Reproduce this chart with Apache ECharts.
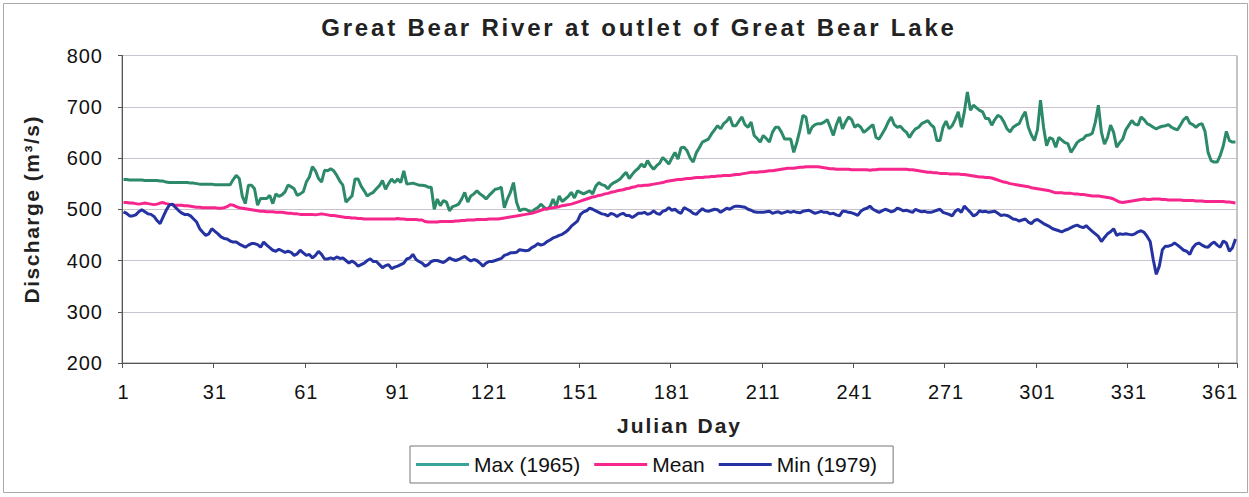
<!DOCTYPE html>
<html><head><meta charset="utf-8">
<script src="https://cdn.jsdelivr.net/npm/echarts@6/dist/echarts.min.js"></script>
<style>html,body{margin:0;padding:0;background:#fff}#c{width:1249px;height:497px}</style>
</head><body><div id="c"></div>
<script>
const titleText = 'Great Bear River at outlet of Great Bear Lake';
const xName = 'Julian Day';
const yName = 'Discharge (m\u00b3/s)';
const seriesNames = ['Max (1965)', 'Mean', 'Min (1979)'];
const yMin = 200, yMax = 800, yStep = 100;

const maxValues = [
558,558,557,557,557,557,557,556,556,556,
556,556,555,555,553,552,552,552,552,552,
552,552,551,551,550,549,549,549,549,549,
548,548,548,548,548,548,558,566,560,525,
511,547,547,540,508,521,521,521,527,511,
530,525,528,534,547,544,540,527,530,534,
553,563,583,575,560,553,576,575,579,575,
566,555,547,514,520,526,559,559,545,536,
526,530,533,540,546,556,539,550,559,552,
559,552,575,549,550,551,549,547,547,546,
543,543,500,520,507,517,514,497,505,507,
510,520,533,514,526,530,536,530,526,520,
527,533,539,540,543,503,520,533,552,514,
497,500,500,497,494,500,503,510,504,500,
505,520,505,526,515,520,525,533,522,536,
533,530,533,536,530,545,552,548,546,540,
548,552,555,559,566,572,560,568,575,580,
588,582,595,585,578,585,590,601,595,588,
600,611,598,620,621,614,600,592,610,620,
631,634,637,647,655,663,657,667,672,680,
663,663,672,680,665,660,670,644,638,631,
644,638,631,650,660,660,650,637,637,637,
611,630,654,683,680,647,660,665,667,667,
670,675,660,644,665,680,657,670,680,675,
660,665,660,650,655,660,665,640,637,647,
657,670,680,665,660,662,655,650,640,650,
657,660,667,670,673,665,660,634,634,660,
672,657,663,675,690,660,690,729,693,703,
698,693,690,677,677,664,675,683,680,670,
657,651,660,664,667,680,690,660,645,634,
655,713,660,624,640,637,621,640,635,630,
628,611,620,630,635,637,644,645,648,670,
703,650,627,640,664,650,621,630,637,655,
664,673,666,664,680,675,667,664,660,657,
660,662,663,665,660,657,655,665,675,680,
668,665,660,665,667,652,611,595,592,592,
605,624,652,634,631,631
];

const meanValues = [
513,513,512,512,511,510,511,512,511,510,
509,510,512,513,511,510,509,508,508,508,
507,507,506,505,504,504,503,503,503,503,
503,502,502,503,505,509,508,505,503,502,
501,500,499,498,497,496,496,495,495,495,
494,494,494,493,492,492,491,491,490,490,
490,490,490,489,490,491,490,489,488,488,
487,486,485,484,484,483,483,482,482,481,
481,481,481,481,481,481,481,481,481,481,
482,481,481,480,480,480,480,479,479,476,
475,475,475,475,476,476,476,476,476,477,
477,478,478,479,479,479,480,480,480,480,
481,481,481,481,482,483,484,485,486,487,
488,489,490,491,492,494,496,498,500,501,
502,503,504,505,507,508,509,510,512,514,
516,518,520,522,524,525,527,528,530,531,
533,534,536,537,538,540,541,543,544,546,
546,547,547,548,549,550,551,552,554,555,
556,557,558,558,559,560,560,561,562,562,
562,563,563,564,564,565,565,566,566,566,
567,568,568,569,570,571,572,572,572,573,
573,574,575,575,576,577,578,579,580,580,
580,581,582,582,583,583,583,583,583,582,
581,580,579,579,578,578,578,578,578,577,
577,577,577,577,577,576,577,577,578,578,
578,578,578,578,578,578,578,578,577,577,
576,575,574,573,572,572,571,571,570,570,
570,569,569,569,569,568,568,567,566,565,
564,563,563,562,562,561,559,557,555,553,
552,550,549,548,547,546,545,544,542,541,
540,539,538,537,536,534,532,532,532,531,
531,531,530,530,529,529,528,527,526,526,
526,525,524,523,522,520,517,514,513,514,
515,516,517,518,519,520,519,519,520,520,
520,519,519,518,518,518,518,518,517,517,
517,517,516,516,516,515,515,515,515,515,
515,515,514,514,513,512
];

const minValues = [
495,492,487,487,489,495,499,495,491,490,
486,478,472,485,498,508,510,504,498,493,
490,490,487,481,475,462,455,449,452,462,
457,452,446,443,442,438,436,436,432,429,
426,430,433,433,431,426,436,430,425,420,
418,422,419,416,418,416,410,413,420,415,
410,412,405,410,418,412,403,403,405,403,
407,404,405,400,395,399,395,389,392,395,
400,403,398,398,392,386,390,392,384,387,
389,392,395,403,405,412,402,398,395,389,
392,398,400,400,398,396,400,405,402,400,
402,405,408,403,399,402,400,395,389,395,
398,398,400,402,404,410,412,415,415,416,
421,420,419,420,425,428,433,430,432,437,
440,444,446,449,451,455,460,467,472,477,
490,495,497,502,500,497,494,491,490,487,
492,490,486,490,492,488,488,484,488,492,
492,494,490,492,497,492,490,496,498,503,
498,500,495,492,503,500,497,492,490,496,
501,497,496,498,500,499,494,498,502,500,
504,506,506,505,504,500,498,495,494,494,
494,495,496,492,494,495,492,494,496,494,
496,494,493,496,497,498,495,492,494,496,
494,494,491,492,489,487,496,496,494,493,
491,488,496,500,502,506,500,497,494,497,
500,498,495,497,502,500,497,498,496,494,
500,497,495,496,494,494,496,498,500,494,
492,490,487,496,500,494,506,500,494,487,
490,497,495,496,494,495,496,492,488,489,
488,485,481,480,477,479,481,475,472,478,
480,476,472,469,466,462,460,458,456,459,
461,464,467,469,466,464,468,462,457,452,
447,437,445,452,456,462,449,452,451,452,
451,450,452,456,458,455,447,437,402,373,
389,421,428,428,430,434,430,425,420,418,
412,425,432,434,430,427,426,432,436,430,
426,438,434,418,425,442
];

const days = maxValues.map((_, i) => String(i + 1));
const FONT = 'Liberation Sans, Arial, sans-serif';

const chart = echarts.init(document.getElementById('c'), null, {renderer: 'svg'});
chart.setOption({
  animation: false,
  backgroundColor: '#ffffff',
  title: {
    text: titleText, left: 634, top: 10, textAlign: 'center',
    textStyle: {fontFamily: FONT, fontSize: 24, fontWeight: 'bold', color: '#222'}
  },
  graphic: [{
    type: 'rect', left: 1, top: 1, silent: true,
    shape: {width: 1244, height: 489},
    style: {fill: 'none', stroke: '#aaa', lineWidth: 1}
  }],
  grid: {left: 122, right: 12, top: 55.5, bottom: 134, show: true, borderColor: '#8a8a8a', borderWidth: 1},
  legend: {
    data: seriesNames, left: 410, top: 446, orient: 'horizontal',
    icon: 'rect', itemWidth: 53, itemHeight: 3, itemGap: 14,
    padding: [8, 16, 8, 6], borderColor: '#777', borderWidth: 1,
    textStyle: {fontFamily: FONT, fontSize: 21, color: '#111'}
  },
  xAxis: {
    type: 'category', data: days, boundaryGap: true,
    name: xName, nameLocation: 'middle', nameGap: 52,
    nameTextStyle: {fontFamily: FONT, fontSize: 21, fontWeight: 'bold', color: '#222'},
    axisLine: {show: true, lineStyle: {color: '#555', width: 1}},
    axisTick: {show: true, interval: 29, length: 5, lineStyle: {color: '#555'}},
    axisLabel: {interval: 29, margin: 19, fontFamily: FONT, fontSize: 20, color: '#111'},
    splitLine: {show: false}
  },
  yAxis: {
    type: 'value', min: yMin, max: yMax, interval: yStep,
    name: yName, nameLocation: 'middle', nameGap: 80, nameRotate: 90,
    nameTextStyle: {fontFamily: FONT, fontSize: 21, fontWeight: 'bold', color: '#222'},
    axisLine: {show: true, lineStyle: {color: '#555', width: 1}},
    axisTick: {show: true, length: 4, lineStyle: {color: '#555'}},
    axisLabel: {margin: 19, fontFamily: FONT, fontSize: 20, color: '#111'},
    splitLine: {show: true, lineStyle: {color: '#c9c3cf', width: 1}}
  },
  series: [
    {name: seriesNames[0], type: 'line', data: maxValues, symbol: 'none', showSymbol: false,
     lineStyle: {color: '#2c8a68', width: 3}, itemStyle: {color: '#3aa39a'}, z: 2},
    {name: seriesNames[1], type: 'line', data: meanValues, symbol: 'none', showSymbol: false,
     lineStyle: {color: '#f7268c', width: 3}, itemStyle: {color: '#f7268c'}, z: 3},
    {name: seriesNames[2], type: 'line', data: minValues, symbol: 'none', showSymbol: false,
     lineStyle: {color: '#2532a2', width: 3}, itemStyle: {color: '#2532a2'}, z: 4}
  ]
});

function spaceText() {
  document.querySelectorAll('#c svg text').forEach(t => {
    const s = (t.textContent || '').trim();
    if (s.indexOf('Great Bear') >= 0) t.setAttribute('letter-spacing', '2.8px');
    else if (s.indexOf('Julian') >= 0) t.setAttribute('letter-spacing', '2px');
    else if (s.indexOf('Discharge') >= 0) t.setAttribute('letter-spacing', '1.5px');
    else if (/^\d+$/.test(s)) t.setAttribute('letter-spacing', '1px');
  });
}
spaceText();
chart.on('finished', spaceText);
setTimeout(spaceText, 50);
</script></body></html>
